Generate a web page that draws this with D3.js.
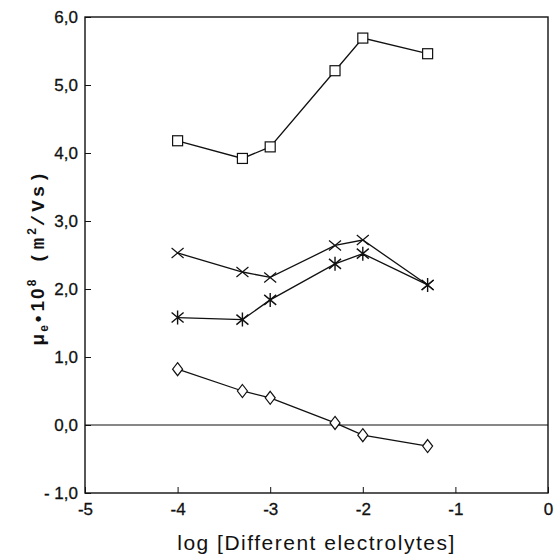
<!DOCTYPE html>
<html>
<head>
<meta charset="utf-8">
<script src="https://cdn.jsdelivr.net/npm/d3@7"></script>
<style>
  body { margin: 0; background: #fff; }
  svg text { font-family: "Liberation Sans", Arial, sans-serif; fill: #111; }
</style>
</head>
<body>
<div id="chart"></div>
<script>
// log concentration values
const logConc = [-4, -3.3, -3, -2.3, -2, -1.3];

// mobility series (x 10^8 m2/Vs)
const squareVals   = [4.18, 3.92, 4.09, 5.21, 5.69, 5.46];
const crossVals    = [2.53, 2.25, 2.17, 2.64, 2.72, 2.06];
const asteriskVals = [1.58, 1.55, 1.84, 2.37, 2.52, 2.06];
const diamondVals  = [0.82, 0.50, 0.40, 0.03, -0.15, -0.31];

const xTicks = [-5, -4, -3, -2, -1, 0];
const yTicks = [-1, 0, 1, 2, 3, 4, 5, 6];

const width = 555, height = 556;
const margin = { top: 17, right: 7, bottom: 63, left: 85 };

const svg = d3.select("#chart")
    .append("svg")
    .attr("width", width)
    .attr("height", height);

const x = d3.scaleLinear()
    .domain([-5, 0])
    .range([margin.left, width - margin.right]);

const y = d3.scaleLinear()
    .domain([-1, 6])
    .range([height - margin.bottom, margin.top]);

// frame
svg.append("rect")
    .attr("x", x(-5))
    .attr("y", y(6))
    .attr("width", x(0) - x(-5))
    .attr("height", y(-1) - y(6))
    .attr("fill", "none")
    .attr("stroke", "#111")
    .attr("stroke-width", 1.4);

// zero line
svg.append("line")
    .attr("x1", x(-5)).attr("x2", x(0))
    .attr("y1", y(0)).attr("y2", y(0))
    .attr("stroke", "#111")
    .attr("stroke-width", 1.2);

// axes with inward ticks
const fmt = d => d.toFixed(1).replace(".", ",").replace("-", "- ");

svg.append("g")
    .attr("transform", `translate(${x(-5)},0)`)
    .call(d3.axisLeft(y).tickValues(yTicks).tickSize(-6).tickPadding(7).tickFormat(fmt))
    .call(g => g.select(".domain").remove())
    .call(g => g.selectAll("line").attr("stroke", "#111"))
    .selectAll("text")
    .style("font-size", "17px")
    .style("stroke", "#111")
    .style("stroke-width", 0.3);

svg.append("g")
    .attr("transform", `translate(0,${y(-1)})`)
    .call(d3.axisBottom(x).tickValues(xTicks).tickSize(-6).tickPadding(10)
        .tickFormat(d => d === 0 ? "0" : "-" + Math.abs(d)))
    .call(g => g.select(".domain").remove())
    .call(g => g.selectAll("line").attr("stroke", "#111"))
    .selectAll("text")
    .style("font-size", "17px")
    .style("stroke", "#111")
    .style("stroke-width", 0.3);

// axis titles
svg.append("text")
    .attr("x", (x(-5) + x(0)) / 2)
    .attr("y", 550)
    .attr("text-anchor", "middle")
    .style("font-size", "21px")
    .style("letter-spacing", "1.5px")
    .text("log [Different electrolytes]");

const yt = svg.append("text")
    .attr("transform", `translate(44,${(y(6) + y(-1)) / 2 + 2}) rotate(-90)`)
    .attr("text-anchor", "middle")
    .style("font-size", "19px")
    .style("font-weight", "bold")
    .style("letter-spacing", "2px");
yt.append("tspan").text("\u03bc");
yt.append("tspan").attr("dy", 4).style("font-size", "12px").text("e");
yt.append("tspan").attr("dy", -4).attr("dx", 1).text("\u2022");
yt.append("tspan").attr("dx", 2).text("10");
yt.append("tspan").attr("dy", -8).style("font-size", "12px").text("8");
yt.append("tspan").attr("dy", 8).attr("dx", 14).style("font-family", "'Liberation Mono', monospace").style("letter-spacing", "3px").text("(m");
yt.append("tspan").attr("dy", -8).style("font-size", "12px").text("2");
yt.append("tspan").attr("dy", 8).style("font-family", "'Liberation Mono', monospace").style("letter-spacing", "3px").text("/Vs)");

// series
const line = d3.line()
    .x(d => x(d[0]))
    .y(d => y(d[1]));

const series = [
    { vals: squareVals, marker: "square" },
    { vals: crossVals, marker: "cross" },
    { vals: asteriskVals, marker: "asterisk" },
    { vals: diamondVals, marker: "diamond" }
];

series.forEach(s => {
    const pts = logConc.map((c, i) => [c, s.vals[i]]);

    svg.append("path")
        .datum(pts)
        .attr("d", line)
        .attr("fill", "none")
        .attr("stroke", "#111")
        .attr("stroke-width", 1.3);

    const g = svg.append("g")
        .selectAll("g")
        .data(pts)
        .join("g")
        .attr("transform", d => `translate(${x(d[0])},${y(d[1])})`);

    if (s.marker === "square") {
        g.append("rect")
            .attr("x", -5).attr("y", -5)
            .attr("width", 10).attr("height", 10)
            .attr("fill", "#fff")
            .attr("stroke", "#111")
            .attr("stroke-width", 1.2);
    } else if (s.marker === "diamond") {
        g.append("path")
            .attr("d", "M0,-6.5L5,0L0,6.5L-5,0Z")
            .attr("fill", "#fff")
            .attr("stroke", "#111")
            .attr("stroke-width", 1.2);
    } else if (s.marker === "cross") {
        g.append("path")
            .attr("d", "M-6,-5L6,5M-6,5L6,-5")
            .attr("stroke", "#111")
            .attr("stroke-width", 1.2);
    } else {
        g.append("path")
            .attr("d", "M-6,-5L6,5M-6,5L6,-5M0,-7L0,7")
            .attr("stroke", "#111")
            .attr("stroke-width", 1.4);
    }
});
</script>
</body>
</html>
